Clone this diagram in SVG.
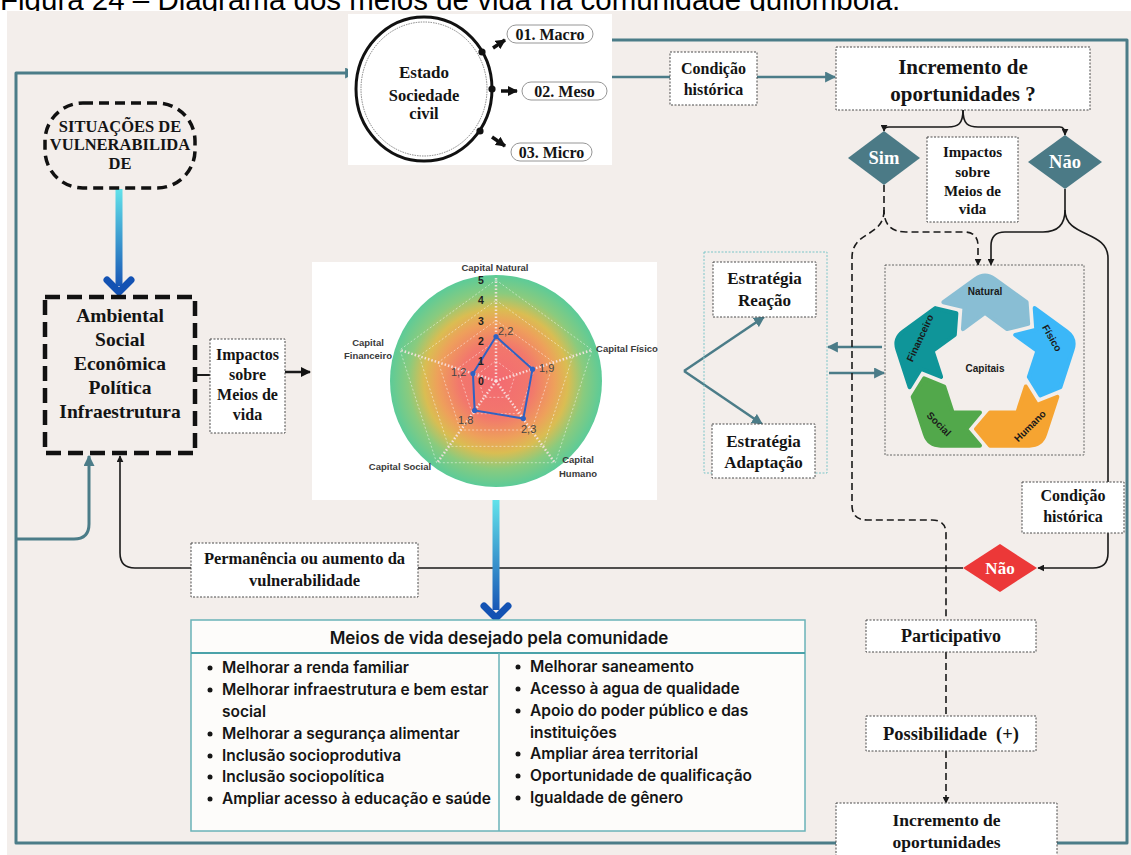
<svg xmlns="http://www.w3.org/2000/svg" xmlns:xlink="http://www.w3.org/1999/xlink" width="1131" height="855" viewBox="0 0 1131 855">
<defs>
<style>
.s{font-family:"Liberation Serif","DejaVu Serif",serif;font-weight:700;fill:#141414;text-anchor:middle}
.box{fill:#fff;stroke:#4a4a4a;stroke-width:1;stroke-dasharray:2 1.5}
.teal{fill:none;stroke:#4b7c88;stroke-width:3;stroke-linejoin:round}
.teal2{fill:none;stroke:#4b7c88;stroke-width:2.5}
.blk{fill:none;stroke:#1a1a1a;stroke-width:1.6}
.dash{stroke-dasharray:7 4}
.tbl{font-family:Inter,Roboto,"Liberation Sans",sans-serif;font-weight:600;font-size:15.5px;fill:#151515}
.rl{font-family:"Liberation Sans",Arial,sans-serif;font-weight:700;font-size:9.5px;fill:#3a3a3a;text-anchor:middle}
.rv{font-family:"Liberation Sans",Arial,sans-serif;font-size:11px;fill:#454545}
.rn{font-family:"Liberation Sans",Arial,sans-serif;font-weight:700;font-size:10.5px;fill:#1e1e1e;text-anchor:middle}
.cap{font-family:"Liberation Sans",Arial,sans-serif;font-weight:700;font-size:10px;fill:#1a1a1a;text-anchor:middle}
.seg{stroke-width:4;stroke-linejoin:round}
.pill{fill:#fff;stroke:#8a8a8a;stroke-width:0.9}
</style>
<marker id="aT" viewBox="0 0 10 10" refX="9" refY="5" markerWidth="11" markerHeight="11" markerUnits="userSpaceOnUse" orient="auto"><path d="M0,0 L10,5 L0,10 Z" fill="#4b7c88"/></marker>
<marker id="aB" viewBox="0 0 10 10" refX="9" refY="5" markerWidth="7" markerHeight="7" markerUnits="userSpaceOnUse" orient="auto"><path d="M0,0 L10,5 L0,10 Z" fill="#1a1a1a"/></marker>
<marker id="aBB" viewBox="0 0 10 10" refX="9" refY="5" markerWidth="10" markerHeight="10" markerUnits="userSpaceOnUse" orient="auto"><path d="M0,0 L10,5 L0,10 Z" fill="#111"/></marker>
<linearGradient id="gA" x1="0" y1="0" x2="0" y2="1"><stop offset="0" stop-color="#62e2ea"/><stop offset="1" stop-color="#1857b6"/></linearGradient>
<radialGradient id="gR" cx="0.5" cy="0.5" r="0.5"><stop offset="0" stop-color="#f36a72"/><stop offset="0.35" stop-color="#f2786c"/><stop offset="0.55" stop-color="#eea05b"/><stop offset="0.68" stop-color="#dabd52"/><stop offset="0.83" stop-color="#8acb7e"/><stop offset="1" stop-color="#5ccb98"/></radialGradient>
<path id="seg" d="M-41.6,-65.77 L-9.71,-88.94 Q0,-96 9.71,-88.94 L41.6,-65.77 L43.18,-44.13 L22.1,-38.94 L0,-55 L-22.1,-38.94 L-20.53,-60.59 Z"/>
</defs>

<rect x="0" y="0" width="1131" height="855" fill="#fff"/>
<text x="0" y="10" font-family="Liberation Sans,Arial,sans-serif" font-size="29.5" fill="#000">Figura 24 – Diagrama dos meios de vida na comunidade quilombola.</text>
<rect x="7" y="11" width="1124" height="844" fill="#f3eeeb"/>

<g id="connectors">
<path class="teal" d="M612,40 H1127 V843 H16 V73 H355" marker-end="url(#aT)"/>
<path class="teal" d="M16,539 H74 Q89,539 89,524 V456" marker-end="url(#aT)"/>
<path class="teal2" d="M609,77 H670"/>
<path class="teal2" d="M757,77 H835" marker-end="url(#aT)"/>
<path class="teal2" d="M684,371 L764,317" marker-end="url(#aT)"/>
<path class="teal2" d="M684,371 L762,424" marker-end="url(#aT)"/>
<path class="teal2" d="M882,347 H828" marker-end="url(#aT)"/>
<path class="teal2" d="M829,373 H884" marker-end="url(#aT)"/>
<path class="blk" style="stroke-width:2" d="M195,375 H210"/>
<path class="blk" style="stroke-width:2.5" d="M285,372 H310" marker-end="url(#aBB)"/>
<path class="blk" d="M963,110 C963,124 958,127 948,127 H889 Q884,127 884,131" marker-end="url(#aB)"/>
<path class="blk" d="M963,110 C963,124 968,127 978,127 H1060 Q1065,127 1065,135" marker-end="url(#aB)"/>
<path class="blk dash" d="M884,185 V210 Q884,232 906,232 H964 Q978,232 978,246 V265" marker-end="url(#aB)"/>
<path class="blk dash" d="M884,210 C884,238 852,230 852,258 V505 Q852,520 867,520 H932 Q946,520 946,534 V620"/>
<path class="blk" d="M1065,189 V210 Q1065,232 1043,232 H1005 Q991,232 991,246 V265" marker-end="url(#aB)"/>
<path class="blk" d="M1065,210 C1065,238 1108,230 1108,258 V553 Q1108,568 1093,568 H1038" marker-end="url(#aB)"/>
<path class="blk" d="M963,568 H135 Q120,568 120,553 V456" marker-end="url(#aB)"/>
<path class="blk dash" d="M946,652 V716"/>
<path class="blk dash" d="M946,751 V803" marker-end="url(#aB)"/>
<rect x="115.5" y="189" width="7" height="97" fill="url(#gA)"/>
<path d="M107,280 L119,292 L131,280" fill="none" stroke="#1352b3" stroke-width="7" stroke-linecap="round" stroke-linejoin="round"/>
<rect x="492.5" y="500" width="7" height="110" fill="url(#gA)"/>
<path d="M484,606 L496,618 L508,606" fill="none" stroke="#1352b3" stroke-width="7" stroke-linecap="round" stroke-linejoin="round"/>
</g>

<g id="estado">
<rect x="348" y="14" width="264" height="151" fill="#fff"/>
<ellipse cx="424" cy="89" rx="68" ry="72" fill="none" stroke="#111" stroke-width="3"/>
<ellipse cx="424" cy="89" rx="63" ry="67" fill="none" stroke="#666" stroke-width="0.8" stroke-dasharray="1.5 1"/>
<circle cx="482" cy="52" r="3.6" fill="#111"/>
<circle cx="492" cy="89" r="3.6" fill="#111"/>
<circle cx="480" cy="131" r="3.6" fill="#111"/>
<path d="M493,48 L505,40" fill="none" stroke="#111" stroke-width="3.5" marker-end="url(#aBB)"/>
<path d="M501,91 L517,91" fill="none" stroke="#111" stroke-width="3.5" marker-end="url(#aBB)"/>
<path d="M492,137 L505,146" fill="none" stroke="#111" stroke-width="3.5" marker-end="url(#aBB)"/>
<text class="s" font-size="17" x="424" y="78">Estado</text>
<text class="s" font-size="16.5" x="424" y="101">Sociedade</text>
<text class="s" font-size="16.5" x="424" y="119">civil</text>
</g>
<g id="macro"><rect class="pill" x="507" y="25" width="86" height="18" rx="9"/><text class="s" font-size="16" x="550" y="39.5">01. Macro</text></g>
<g id="meso"><rect class="pill" x="522" y="82" width="85" height="18" rx="9"/><text class="s" font-size="16" x="564.5" y="96.5">02. Meso</text></g>
<g id="micro"><rect class="pill" x="511" y="143" width="81" height="18" rx="9"/><text class="s" font-size="16" x="551.5" y="157.5">03. Micro</text></g>

<g id="cond1"><rect class="box" x="670" y="52" width="87" height="53"/><text class="s" font-size="16" x="713.5" y="74">Condição</text><text class="s" font-size="16" x="713.5" y="95">histórica</text></g>
<g id="incr1"><rect class="box" x="836" y="47" width="254" height="63"/><text class="s" font-size="21" x="963" y="74">Incremento de</text><text class="s" font-size="21" x="963" y="101">oportunidades ?</text></g>
<g id="sim"><polygon points="884,131 920,158 884,185 848,158" fill="#4b7a86"/><text class="s" font-size="18.5" x="884" y="164" style="fill:#fff">Sim</text></g>
<g id="nao1"><polygon points="1065,135 1102,162 1065,189 1028,162" fill="#4b7a86"/><text class="s" font-size="18.5" x="1065" y="168" style="fill:#fff">Não</text></g>
<g id="impactos2"><rect class="box" x="927" y="137" width="91" height="85"/><text class="s" font-size="15" x="972.5" y="157">Impactos</text><text class="s" font-size="15" x="972.5" y="177">sobre</text><text class="s" font-size="15" x="972.5" y="196">Meios de</text><text class="s" font-size="15" x="972.5" y="214">vida</text></g>

<g id="situacoes"><rect x="45" y="103" width="150" height="85" rx="38" ry="38" fill="none" stroke="#111" stroke-width="3.5" stroke-dasharray="10 6"/><text class="s" font-size="16.5" x="120" y="132">SITUAÇÕES DE</text><text class="s" font-size="16.5" x="120" y="150">VULNERABILIDA</text><text class="s" font-size="16.5" x="120" y="169">DE</text></g>
<g id="dimensoes"><rect x="45" y="297" width="150" height="156" fill="none" stroke="#111" stroke-width="4.5" stroke-dasharray="15 7"/><text class="s" font-size="19.5" x="120" y="322">Ambiental</text><text class="s" font-size="19.5" x="120" y="346">Social</text><text class="s" font-size="19.5" x="120" y="370">Econômica</text><text class="s" font-size="19.5" x="120" y="394">Política</text><text class="s" font-size="19.5" x="120" y="418">Infraestrutura</text></g>
<g id="impactos1"><rect class="box" x="210" y="339" width="75" height="94"/><text class="s" font-size="16" x="247.5" y="360">Impactos</text><text class="s" font-size="16" x="247.5" y="380">sobre</text><text class="s" font-size="16" x="247.5" y="400">Meios de</text><text class="s" font-size="16" x="247.5" y="420">vida</text></g>

<g id="radar">
<rect x="312" y="262" width="345" height="238" fill="#fff"/>
<circle cx="496" cy="381" r="106" fill="url(#gR)"/>
<g fill="none" stroke="#fff" stroke-opacity="0.6" stroke-width="0.8" stroke-dasharray="2 2">
<polygon points="496,360.8 515.21,374.76 507.87,397.34 484.13,397.34 476.79,374.76"/>
<polygon points="496,340.6 534.42,368.52 519.75,413.68 472.25,413.68 457.58,368.52"/>
<polygon points="496,320.4 553.64,362.27 531.62,430.03 460.38,430.03 438.36,362.27"/>
<polygon points="496,300.2 572.85,356.03 543.49,446.37 448.51,446.37 419.15,356.03"/>
<polygon points="496,280 592.06,349.79 555.37,462.71 436.63,462.71 399.94,349.79"/>
</g>
<g stroke="#f8e4e4" stroke-opacity="0.9" stroke-width="2.5" stroke-dasharray="1.5 2">
<line x1="496" y1="381" x2="496" y2="278"/><line x1="496" y1="381" x2="592" y2="350"/><line x1="496" y1="381" x2="555" y2="463"/><line x1="496" y1="381" x2="437" y2="463"/><line x1="496" y1="381" x2="400" y2="350"/>
</g>
<polygon points="496,336.56 532.5,369.14 523.31,418.59 474.63,410.42 472.95,373.51" fill="none" stroke="#3062c2" stroke-width="2"/>
<g fill="#3062c2"><circle cx="496" cy="336.56" r="2.6"/><circle cx="532.5" cy="369.14" r="2.6"/><circle cx="523.31" cy="418.59" r="2.6"/><circle cx="474.63" cy="410.42" r="2.6"/><circle cx="472.95" cy="373.51" r="2.6"/></g>
<text class="rn" x="481" y="284">5</text><text class="rn" x="481" y="304">4</text><text class="rn" x="481" y="325">3</text><text class="rn" x="481" y="345">2</text><text class="rn" x="481" y="365">1</text><text class="rn" x="481" y="385">0</text>
<text class="rv" x="498" y="335">2,2</text><text class="rv" x="539" y="372">1,9</text><text class="rv" x="521" y="433">2,3</text><text class="rv" x="458" y="424">1,8</text><text class="rv" x="451" y="376">1,2</text>
<text class="rl" x="495" y="271">Capital Natural</text>
<text class="rl" x="627" y="352">Capital Físico</text>
<text class="rl" x="578" y="463">Capital</text><text class="rl" x="578" y="477">Humano</text>
<text class="rl" x="400" y="470">Capital Social</text>
<text class="rl" x="368" y="346">Capital</text><text class="rl" x="368" y="359">Financeiro</text>
</g>

<g id="estrategias"><rect x="704" y="252" width="123" height="221" fill="none" stroke="#7cc5c8" stroke-width="1" stroke-dasharray="2 1.5"/></g>
<g id="reacao"><rect class="box" x="713" y="262" width="103" height="55"/><text class="s" font-size="17" x="764.5" y="284">Estratégia</text><text class="s" font-size="17" x="764.5" y="306">Reação</text></g>
<g id="adaptacao"><rect class="box" x="712" y="424" width="103" height="54"/><text class="s" font-size="17" x="763.5" y="447">Estratégia</text><text class="s" font-size="17" x="763.5" y="468">Adaptação</text></g>

<g id="capitais">
<rect x="885" y="265" width="199" height="190" fill="none" stroke="#555" stroke-width="0.9" stroke-dasharray="2 1.5"/>
<g transform="translate(985,368)">
<use href="#seg" class="seg" fill="#89bed4" stroke="#89bed4"/>
<use href="#seg" class="seg" transform="rotate(72)" fill="#3bb7f8" stroke="#3bb7f8"/>
<use href="#seg" class="seg" transform="rotate(144)" fill="#f6a431" stroke="#f6a431"/>
<use href="#seg" class="seg" transform="rotate(216)" fill="#52a84b" stroke="#52a84b"/>
<use href="#seg" class="seg" transform="rotate(288)" fill="#0f9599" stroke="#0f9599"/>
</g>
<text class="cap" x="985" y="295">Natural</text>
<text class="cap" transform="translate(1052,338) rotate(60)" x="0" y="3.5">Físico</text>
<text class="cap" transform="translate(1030,426) rotate(-45)" x="0" y="3.5">Humano</text>
<text class="cap" transform="translate(939,424) rotate(45)" x="0" y="3.5">Social</text>
<text class="cap" transform="translate(920,338) rotate(-65)" x="0" y="3.5">Financeiro</text>
<text class="cap" font-size="13" x="985" y="372">Capitais</text>
</g>

<g id="cond2"><rect class="box" x="1022" y="482" width="102" height="51"/><text class="s" font-size="16" x="1073" y="501">Condição</text><text class="s" font-size="16" x="1073" y="522">histórica</text></g>
<g id="nao2"><polygon points="1000,544 1037,568 1000,592 963,568" fill="#ec3838"/><text class="s" font-size="17" x="1000" y="574" style="fill:#fff">Não</text></g>
<g id="permanencia"><rect class="box" x="191" y="543" width="227" height="54"/><text class="s" font-size="16.5" x="304.5" y="564">Permanência ou aumento da</text><text class="s" font-size="16.5" x="304.5" y="586">vulnerabilidade</text></g>
<g id="participativo"><rect class="box" x="866" y="620" width="170" height="32"/><text class="s" font-size="18" x="951" y="642">Participativo</text></g>
<g id="possibilidade"><rect class="box" x="866" y="716" width="170" height="35"/><text class="s" font-size="18.5" x="951" y="740" xml:space="preserve">Possibilidade  (+)</text></g>
<g id="incr2"><rect class="box" x="836" y="803" width="221" height="56"/><text class="s" font-size="17.5" x="946.5" y="826">Incremento de</text><text class="s" font-size="17.5" x="946.5" y="848">oportunidades</text></g>

<g id="meios">
<rect x="191" y="620" width="614" height="211" fill="#fdfcfa" stroke="#6ab3b8" stroke-width="1.5"/>
<line x1="191" y1="653" x2="805" y2="653" stroke="#4aa2a9" stroke-width="2"/>
<line x1="499" y1="653" x2="499" y2="831" stroke="#6ab3b8" stroke-width="1.5"/>
<text class="tbl" style="font-size:17px" x="499" y="644" text-anchor="middle">Meios de vida desejado pela comunidade</text>
<g fill="#151515"><circle cx="210" cy="668" r="2.5"/><circle cx="210" cy="690" r="2.5"/><circle cx="210" cy="734" r="2.5"/><circle cx="210" cy="756" r="2.5"/><circle cx="210" cy="777" r="2.5"/><circle cx="210" cy="799" r="2.5"/>
<circle cx="518" cy="667" r="2.5"/><circle cx="518" cy="689" r="2.5"/><circle cx="518" cy="711" r="2.5"/><circle cx="518" cy="754" r="2.5"/><circle cx="518" cy="776" r="2.5"/><circle cx="518" cy="798" r="2.5"/></g>
<text class="tbl" x="222" y="673">Melhorar a renda familiar</text>
<text class="tbl" x="222" y="695">Melhorar infraestrutura e bem estar</text>
<text class="tbl" x="222" y="717">social</text>
<text class="tbl" x="222" y="739">Melhorar a segurança alimentar</text>
<text class="tbl" x="222" y="761">Inclusão socioprodutiva</text>
<text class="tbl" x="222" y="782">Inclusão sociopolítica</text>
<text class="tbl" x="222" y="804">Ampliar acesso à educação e saúde</text>
<text class="tbl" x="530" y="672">Melhorar saneamento</text>
<text class="tbl" x="530" y="694">Acesso à agua de qualidade</text>
<text class="tbl" x="530" y="716">Apoio do poder público e das</text>
<text class="tbl" x="530" y="738">instituições</text>
<text class="tbl" x="530" y="759">Ampliar área territorial</text>
<text class="tbl" x="530" y="781">Oportunidade de qualificação</text>
<text class="tbl" x="530" y="803">Igualdade de gênero</text>
</g>
</svg>
